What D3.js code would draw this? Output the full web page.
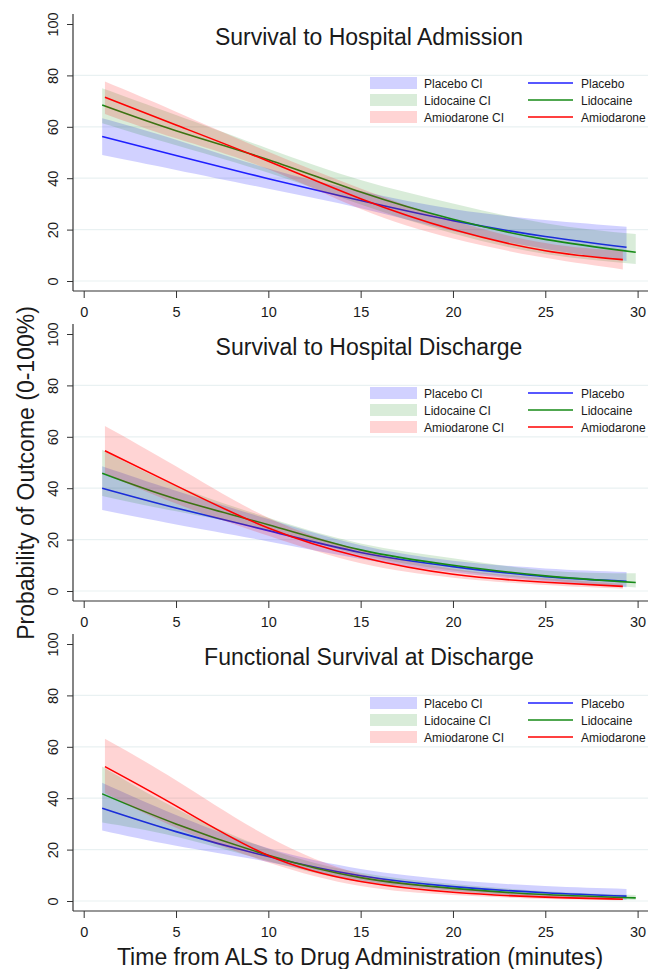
<!DOCTYPE html>
<html>
<head>
<meta charset="utf-8">
<script src="https://cdn.jsdelivr.net/npm/d3@7"></script>
<style>
  body { margin: 0; background: #fff; }
  text { font-family: Arial, "Liberation Sans", sans-serif; fill: #1a1a1a; }
</style>
</head>
<body>
<script>
// x positions (minutes) where each curve is read
let placeboX = [1, 5, 10, 15, 20, 25, 29.4];
let lidocaineX = [1, 5, 10, 15, 20, 25, 29.9];
let amiodaroneX = [1.15, 5, 10, 15, 20, 25, 29.2];

let seriesNames = ["Placebo", "Lidocaine", "Amiodarone"];
let panelTitles = [
    "Survival to Hospital Admission",
    "Survival to Hospital Discharge",
    "Functional Survival at Discharge"];

let xTicks = [0, 5, 10, 15, 20, 25, 30];
let yTicks = [0, 20, 40, 60, 80, 100];
let gridTicks = [0, 20, 40, 60, 80];

// Survival to hospital admission
let admPlacebo = [56.2, 48.8, 39.8, 31.3, 23.5, 17.3, 13.1];
let admPlaceboLo = [49, 43.2, 35.9, 28.3, 19.5, 12.5, 7.8];
let admPlaceboHi = [63.3, 55, 43.8, 35, 28, 23.7, 21.1];
let admLidocaine = [68.5, 58.5, 47.2, 34.6, 24, 16.2, 11.2];
let admLidocaineLo = [61.4, 52.8, 42.1, 29.8, 18.5, 10.5, 6.6];
let admLidocaineHi = [75, 64.6, 51.5, 39.3, 30.2, 22.5, 18.3];
let admAmiodarone = [71.5, 60.7, 46.6, 32, 20, 11.8, 8.3];
let admAmiodaroneLo = [65, 55.5, 43.5, 28, 16.5, 9, 4.5];
let admAmiodaroneHi = [77.6, 65.9, 50.3, 36, 23.5, 14.8, 11.8];

// Survival to hospital discharge
let disPlacebo = [40, 32.3, 23.5, 15, 9.5, 5.6, 3.8];
let disPlaceboLo = [31.5, 25.9, 19.3, 12.5, 7.3, 3.8, 1.5];
let disPlaceboHi = [48.5, 39, 28, 17.8, 11.8, 8.8, 7.4];
let disLidocaine = [45.8, 35.8, 25.8, 16, 10, 5.9, 3.3];
let disLidocaineLo = [37, 31, 23.5, 14, 8, 4.3, 1.4];
let disLidocaineHi = [55, 41, 28.5, 18.5, 12.7, 8, 6.9];
let disAmiodarone = [54.6, 41, 24.5, 13.2, 6.5, 3.4, 1.8];
let disAmiodaroneLo = [45.8, 34, 21.5, 10.8, 5.2, 2.3, 0.9];
let disAmiodaroneHi = [64.2, 48.5, 28.5, 16, 8.7, 5, 2.8];

// Functional survival at discharge
let funPlacebo = [36.1, 27, 17.3, 9.8, 5.6, 3.2, 1.9];
let funPlaceboLo = [27.4, 21.5, 15.2, 8, 4, 1.6, 0.5];
let funPlaceboHi = [46, 33.5, 20.5, 12.5, 8.2, 5.8, 4.7];
let funLidocaine = [41.7, 30, 17.8, 9.1, 4.9, 2.5, 1.2];
let funLidocaineLo = [30.5, 25, 15.5, 7.4, 3.7, 1.6, 0.4];
let funLidocaineHi = [52.3, 36, 20.3, 11, 6.6, 3.8, 2.3];
let funAmiodarone = [52.3, 37, 17.7, 7.6, 3.4, 1.5, 0.7];
let funAmiodaroneLo = [42, 28.5, 15, 5.8, 2.3, 0.8, 0.3];
let funAmiodaroneHi = [63.1, 47, 25, 10.5, 5, 2.5, 1.3];

let lineColors = ["#1f1fff", "#168a16", "#ff0000"];
let bandColors = ["rgba(0,0,255,0.18)", "rgba(0,128,0,0.15)", "rgba(255,0,0,0.17)"];

let xsBySeries = [placeboX, lidocaineX, amiodaroneX];

let panels = [
    [[admPlacebo, admPlaceboLo, admPlaceboHi],
     [admLidocaine, admLidocaineLo, admLidocaineHi],
     [admAmiodarone, admAmiodaroneLo, admAmiodaroneHi]],
    [[disPlacebo, disPlaceboLo, disPlaceboHi],
     [disLidocaine, disLidocaineLo, disLidocaineHi],
     [disAmiodarone, disAmiodaroneLo, disAmiodaroneHi]],
    [[funPlacebo, funPlaceboLo, funPlaceboHi],
     [funLidocaine, funLidocaineLo, funLidocaineHi],
     [funAmiodarone, funAmiodaroneLo, funAmiodaroneHi]]
];

let width = 650,
    height = 969,
    panelStep = 310;

let plot = {
    left: 73,
    right: 648,
    top: 14,
    bottom: 291
};

let x = d3.scaleLinear()
    .domain([0, 30])
    .range([83.7, 637.6]);

let y = d3.scaleLinear()
    .domain([0, 100])
    .range([281, 24]);

let svg = d3.select("body")
    .append("svg")
    .attr("width", width)
    .attr("height", height);

panels.forEach((panel, p) => {
    let g = svg.append("g")
        .attr("transform", `translate(0,${p * panelStep})`);

    // grid
    g.selectAll("line.grid")
        .data(gridTicks)
        .enter().append("line")
        .attr("class", "grid")
        .attr("x1", plot.left)
        .attr("x2", plot.right)
        .attr("y1", (d) => y(d))
        .attr("y2", (d) => y(d))
        .attr("stroke", "#e9f1f2")
        .attr("stroke-width", 1.2);

    // bands and lines, series by series
    panel.forEach((s, i) => {
        let xs = xsBySeries[i];
        let rows = xs.map((xv, k) => ({x: xv, v: s[0][k], lo: s[1][k], hi: s[2][k]}));

        let area = d3.area()
            .x((d) => x(d.x))
            .y0((d) => y(d.lo))
            .y1((d) => y(d.hi))
            .curve(d3.curveNatural);

        let line = d3.line()
            .x((d) => x(d.x))
            .y((d) => y(d.v))
            .curve(d3.curveNatural);

        g.append("path")
            .attr("d", area(rows))
            .attr("fill", bandColors[i]);

        g.append("path")
            .attr("d", line(rows))
            .attr("fill", "none")
            .attr("stroke", lineColors[i])
            .attr("stroke-width", 1.6);
    });

    // title
    g.append("text")
        .attr("x", 369)
        .attr("y", 45)
        .attr("text-anchor", "middle")
        .style("font-size", "23px")
        .text(panelTitles[p]);

    // legend
    let legend = g.append("g");
    seriesNames.forEach((name, j) => {
        let cy = 83 + 17 * j;
        legend.append("rect")
            .attr("x", 370).attr("y", cy - 6)
            .attr("width", 47).attr("height", 12)
            .attr("fill", bandColors[j]);
        legend.append("text")
            .attr("x", 424).attr("y", cy + 4.5)
            .style("font-size", "12px")
            .text(name + " CI");
        legend.append("line")
            .attr("x1", 528).attr("x2", 573)
            .attr("y1", cy).attr("y2", cy)
            .attr("stroke", lineColors[j])
            .attr("stroke-width", 1.3);
        legend.append("text")
            .attr("x", 581).attr("y", cy + 4.5)
            .style("font-size", "12px")
            .text(name);
    });

    // axes
    let yAxis = d3.axisLeft(y).tickValues(yTicks).tickSize(6).tickSizeOuter(0);
    let xAxis = d3.axisBottom(x).tickValues(xTicks).tickSize(7).tickSizeOuter(0);

    let yg = g.append("g")
        .attr("transform", `translate(${plot.left},0)`)
        .call(yAxis);
    yg.select(".domain").remove();
    yg.selectAll("line").attr("stroke", "#333");
    yg.selectAll("text")
        .attr("x", null)
        .attr("dy", null)
        .attr("text-anchor", "middle")
        .attr("transform", "translate(-15.5,0) rotate(-90)")
        .style("font-size", "14.5px")
        .style("font-family", "Arial, 'Liberation Sans', sans-serif")
        .attr("fill", "#1a1a1a");

    let xg = g.append("g")
        .attr("transform", `translate(0,${plot.bottom})`)
        .call(xAxis);
    xg.select(".domain").remove();
    xg.selectAll("line").attr("stroke", "#333");
    xg.selectAll("text")
        .attr("y", 26)
        .attr("dy", null)
        .style("font-size", "14.5px")
        .style("font-family", "Arial, 'Liberation Sans', sans-serif")
        .attr("fill", "#1a1a1a");

    g.append("line")
        .attr("x1", plot.left).attr("x2", plot.left)
        .attr("y1", plot.top).attr("y2", plot.bottom)
        .attr("stroke", "#333").attr("stroke-width", 1.2);
    g.append("line")
        .attr("x1", plot.left).attr("x2", plot.right)
        .attr("y1", plot.bottom).attr("y2", plot.bottom)
        .attr("stroke", "#333").attr("stroke-width", 1.2);
});

// shared axis titles
svg.append("text")
    .attr("transform", "translate(34,473) rotate(-90)")
    .attr("text-anchor", "middle")
    .style("font-size", "23px")
    .text("Probability of Outcome (0-100%)");

svg.append("text")
    .attr("x", 360)
    .attr("y", 965)
    .attr("text-anchor", "middle")
    .style("font-size", "23px")
    .text("Time from ALS to Drug Administration (minutes)");
</script>
</body>
</html>
